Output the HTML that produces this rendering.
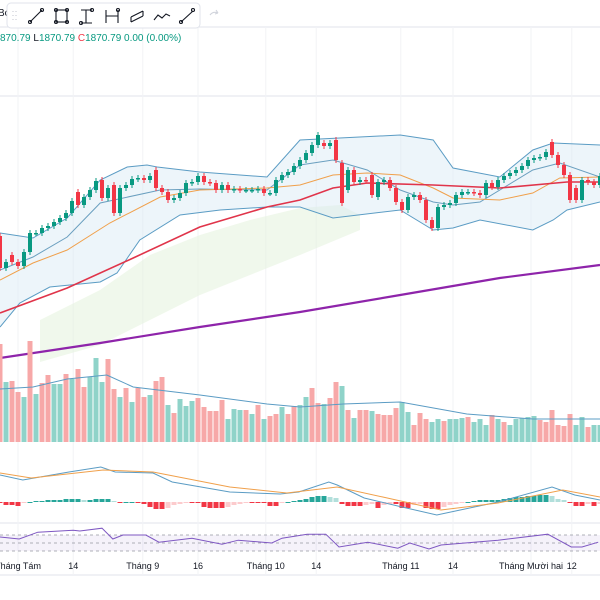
<!DOCTYPE html>
<html><head><meta charset="utf-8"><style>
html,body{margin:0;padding:0;background:#fff;width:600px;height:600px;overflow:hidden}
svg{display:block;font-family:"Liberation Sans",sans-serif}
</style></head><body>
<svg id="chart" width="600" height="600" viewBox="0 0 600 600" xmlns="http://www.w3.org/2000/svg">
<rect x="0" y="0" width="600" height="600" fill="#ffffff"/>
<g id="grid"></g>
<g id="price"></g>
<g id="volume"></g>
<g id="macd"></g>
<g id="rsi"></g>
<g id="xaxis"></g>
<text x="-2" y="16" font-size="10" fill="#131722">Bc</text>
<g font-size="10">
<text x="0" y="41" fill="#089981">870.79 <tspan fill="#131722">L</tspan>1870.79 <tspan fill="#f23645">C</tspan>1870.79 0.00 (0.00%)</text>
</g>
<g>
<rect x="7" y="3" width="193" height="25" rx="4" fill="#fff" stroke="#e0e3eb"/>
<g fill="none" stroke="#131722" stroke-width="1.1">
<g stroke="#c8cbd3"><path d="M13 11v1M16 11v1M13 15v1M16 15v1M13 19v1M16 19v1"/></g>
<g><path d="M30 22L42 10"/><circle cx="30" cy="22" r="1.5"/><circle cx="42" cy="10" r="1.5"/></g>
<g><rect x="56" y="10" width="11" height="12"/><circle cx="56" cy="10" r="1.5"/><circle cx="67" cy="10" r="1.5"/><circle cx="56" cy="22" r="1.5"/><circle cx="67" cy="22" r="1.5"/></g>
<g><path d="M81 10h11M81 23h11M86 10v13"/><circle cx="92" cy="10" r="1.5"/><circle cx="81" cy="23" r="1.5"/></g>
<g><path d="M106 10v13M118 10v13M106 16h12"/><circle cx="118" cy="10" r="1.5"/></g>
<g><path d="M131 17l12-6M131 22l12-6M131 17v5M143 11v5"/></g>
<g><path d="M154 20l4-5 4 3 4-4 4 2"/></g>
<g><path d="M181 22L193 11"/><circle cx="181" cy="22" r="1.5"/><circle cx="193" cy="10" r="1.5"/></g>
</g>
<path d="M210 15q3-4 8-2m0 0l-2-3m2 3l-3 1" fill="none" stroke="#d1d4dc" stroke-width="1.1"/>
</g>
</svg>
<script>
// ---- data (price units; candle i is at x = 6*i) ----
const opens=[1764,1732,1745,1738,1734,1748,1767,1767,1772,1774,1778,1782,1787,1808,1795,1803,1810,1820,1802,1815,1787,1812,1815,1821,1822,1820,1830,1812,1808,1800,1802,1807,1817,1818,1824,1818,1817,1810,1815,1810,1811,1810,1810,1810,1811,1807,1807,1820,1825,1828,1834,1840,1847,1855,1857,1854,1860,1837,1810,1830,1818,1820,1825,1803,1818,1820,1812,1798,1790,1803,1805,1800,1780,1772,1793,1795,1797,1805,1808,1808,1807,1805,1817,1813,1820,1824,1827,1830,1834,1840,1842,1843,1858,1845,1835,1825,1812,1800,1820,1818,1815];
const closes=[1732,1738,1738,1734,1748,1767,1767,1772,1774,1778,1782,1787,1799,1795,1803,1810,1819,1802,1812,1787,1812,1815,1821,1822,1820,1824,1812,1808,1800,1802,1807,1817,1818,1824,1818,1817,1810,1815,1810,1811,1810,1810,1810,1811,1807,1807,1820,1825,1828,1834,1840,1847,1855,1865,1854,1857,1840,1797,1830,1818,1820,1819,1805,1818,1820,1812,1798,1790,1803,1805,1800,1780,1772,1793,1795,1797,1805,1808,1808,1807,1805,1817,1813,1820,1824,1827,1830,1834,1840,1842,1843,1848,1845,1835,1825,1800,1800,1820,1818,1815,1824];
const volumes=[98,60,61,50,45,101,48,59,67,58,58,68,63,73,55,65,84,60,83,53,45,54,40,54,45,47,61,65,37,29,43,36,41,44,35,31,31,42,23,33,32,32,28,37,23,26,28,35,28,36,37,45,54,39,38,44,60,56,32,24,32,32,31,28,27,27,34,40,30,17,29,23,20,23,21,23,23,24,25,20,23,17,27,23,20,17,23,24,25,26,22,20,32,17,16,28,17,25,15,17,17];
const volumeUp=[0,1,0,0,1,0,1,0,0,1,1,0,1,0,0,1,1,1,0,0,1,0,1,0,0,1,0,0,1,0,1,1,1,0,0,0,0,0,1,1,1,0,1,0,1,0,0,1,0,0,1,1,0,0,1,0,0,1,0,1,0,0,1,0,0,0,0,1,1,0,0,0,1,1,0,1,1,1,0,1,1,1,0,1,0,1,1,1,1,1,0,0,0,0,0,0,1,1,0,1,1];
const macdHist=[-1,-3,-3,-4,-1,0,1,1,2,2,2,3,3,3,2,2,3,3,3,1,-1,0,0,-1,-2,-5,-7,-7,-6,-3,-2,-1,-1,-1,-5,-6,-6,-6,-5,-3,-2,-1,-1,-1,-1,-4,-4,-1,0,1,2,3,5,6,6,5,4,-2,-4,-4,-4,-3,-2,-6,-3,-2,-2,-6,-6,-3,-2,-6,-7,-7,-5,-3,-2,-1,0,1,2,2,2,2,3,4,5,5,6,6,7,7,6,3,2,-1,-4,-4,-2,-4,-2];
// indicator knots (candle index -> value)
const bbUpperIdx=[0,5.5,11.2,16.7,21.2,24.5,26.2,33.3,44.5,50,66.7,72.2,75.5,83.3,88.8,92.2,100];
const bbUpperVal=[1767,1762,1782,1820,1833,1835,1833,1828,1823,1860,1865,1860,1832,1823,1850,1857,1855];
const bbLowerIdx=[0,3.3,8.3,16.7,19.5,23.3,30,36.7,44.5,50,55.5,66.7,72.2,75.5,80,88.8,92.2,94.5,100];
const bbLowerVal=[1673,1697,1713,1718,1727,1760,1785,1790,1793,1793,1782,1790,1770,1772,1780,1770,1780,1790,1798];
const bbMidIdx=[0,5.5,11.2,16.7,26.7,33.3,44.5,50,55.5,61.2,66.7,72.2,75.5,80,88.8,93.3,100];
const bbMidVal=[1730,1743,1763,1797,1810,1811,1810,1835,1840,1830,1810,1798,1795,1798,1830,1837,1823];
const ma20Idx=[0,5.5,11.2,18.3,26.7,33.3,44.5,50,55.5,61.2,66.7,72.2,75.5,83.3,88.8,93.3,100];
const ma20Val=[1720,1737,1750,1777,1803,1810,1812,1815,1825,1827,1825,1812,1802,1800,1807,1822,1823];
const ma50Idx=[0,11.2,22.2,33.3,44.5,50,55.5,61.2,72.2,83.3,94.5,100];
const ma50Val=[1687,1712,1742,1773,1793,1800,1812,1817,1815,1812,1818,1818];
const ma200Idx=[0,16.7,33.3,50,66.7,83.3,100];
const ma200Val=[1642,1657,1673,1688,1705,1722,1735];
const volMaIdx=[0,5.5,11.2,17.8,22.2,33.3,44.5,50,57.2,66.7,77.8,88.8,100];
const volMaVal=[53,55,63,67,55,47,38,35,38,40,28,23,23];
const macdIdx=[0,3.8,11.5,16.8,19.2,25.5,28.7,38.3,46.7,49.8,54.8,56.2,60.7,67,72.8,76.7,83,92,95.8,100];
const macdVal=[27,22,30,35,30,29,20,10,8,10,20,17,4,-5,-13,-8,0,15,7,2];
const signalIdx=[0,5.2,17.2,25.5,38.3,47.8,56.2,63.8,73.5,83,93.8,100];
const signalVal=[29,24,32,30,15,9,15,5,-8,-1,12,5];
const rsiIdx=[0,3.2,6.3,12.2,13.3,17,18.8,20.5,24.3,26.5,32,37,39.7,45.3,47,51.2,54.3,56.5,61.3,66.3,68.3,71.5,73.5,83,91.3,95.2,97,99.7];
const rsiVal=[65,60,77,82,80,87,60,70,70,52,62,47,57,50,62,72,72,40,52,37,50,35,45,57,72,40,40,52];
const tickLabels=["Tháng Tám","14","Tháng 9","16","Tháng 10","14","Tháng 11","14","Tháng Mười hai","12"];
const tickIdx=[3,12.2,23.8,33,44.3,52.7,66.8,75.5,88.5,95.3];

// ---- scales ----
const NS="http://www.w3.org/2000/svg";
const xS=i=>i*6;
const yP=p=>2000-p;
const yV=v=>442-v;
const yM=m=>502-m;
const yR=r=>563-r*0.4;
function mk(tag,attrs,parent){const e=document.createElementNS(NS,tag);for(const k in attrs)e.setAttribute(k,attrs[k]);parent.appendChild(e);return e;}
function path(idx,val,ys){return idx.map((i,k)=>(k?'L':'M')+xS(i).toFixed(1)+' '+ys(val[k]).toFixed(1)).join(' ');}

const grid=document.getElementById('grid');
[27,96,523,575].forEach(y=>{const l=mk('line',{x1:0,x2:600,y1:y,y2:y,stroke:'#e0e3eb','stroke-width':1},grid);

});
tickIdx.forEach(i=>{const l=mk('line',{x1:xS(i),x2:xS(i),y1:27,y2:575,stroke:'#f2f3f6','stroke-width':1},grid);

});

// ---- price pane ----
const P=document.getElementById('price');
const cloud=mk('path',{d:'M40 320L100 290L150 255L200 235L250 220L300 208L340 205L360 215L360 230L300 255L250 275L200 295L150 320L100 345L40 362Z',fill:'#e6f4df',opacity:0.6},P);


const upD=path(bbUpperIdx,bbUpperVal,yP);
const loRev=bbLowerIdx.map((i,k)=>[i,bbLowerVal[k]]).reverse();
const fillD=upD+' '+loRev.map(p=>'L'+xS(p[0])+' '+yP(p[1])).join(' ')+'Z';
const bbf=mk('path',{d:fillD,fill:'#d6e9f5',opacity:0.45},P);


[[bbUpperIdx,bbUpperVal,'#5b9cc4','bollinger-upper'],[bbLowerIdx,bbLowerVal,'#5b9cc4','bollinger-lower'],[bbMidIdx,bbMidVal,'#6a9fbf','bollinger-basis'],[ma20Idx,ma20Val,'#f0a04b','ma-orange'],[ma50Idx,ma50Val,'#e0344a','ma-red'],[ma200Idx,ma200Val,'#8e24aa','ma-purple']].forEach(s=>{
 const l=mk('path',{d:path(s[0],s[1],yP),fill:'none',stroke:s[2],'stroke-width':s[3]==='ma-purple'?2.2:(s[3]==='ma-red'?1.6:1)},P);
 
 
});
opens.forEach((o,i)=>{
 const c=closes[i],up=c>=o,col=up?'#089981':'#f23645';
 const g=mk('g',{},P);
 
 
 const hi=Math.max(o,c)+3,lo=Math.min(o,c)-3,x=xS(i);
 mk('line',{x1:x,x2:x,y1:yP(hi),y2:yP(lo),stroke:col,'stroke-width':1},g);
 const t=yP(Math.max(o,c)),h=Math.max(1.5,Math.abs(o-c));
 mk('rect',{x:x-2,y:t,width:4,height:h,fill:col},g);
});

// ---- volume ----
const V=document.getElementById('volume');
volumes.forEach((v,i)=>{
 const up=volumeUp[i]===1;
 const r=mk('rect',{x:xS(i)-2.5,y:yV(v),width:5,height:v,fill:up?'#8fd3c9':'#f7a8a8'},V);
 
 
});
const vm=mk('path',{d:path(volMaIdx,volMaVal,yV),fill:'none',stroke:'#5b9cc4','stroke-width':1},V);



// ---- MACD ----
const M=document.getElementById('macd');
macdHist.forEach((h,i)=>{
 const prev=i?macdHist[i-1]:0;
 let col;
 if(h>=0) col=h>=prev?'#26a69a':'#b2dfdb'; else col=h<=prev?'#f23645':'#fccbcd';
 const y0=yM(0),y1=yM(h);
 const r=mk('rect',{x:xS(i)-2.5,y:Math.min(y0,y1),width:5,height:Math.max(1,Math.abs(y1-y0)),fill:col},M);
 
 
});
const ml=mk('path',{d:path(macdIdx,macdVal,yM),fill:'none',stroke:'#5b9cc4','stroke-width':1},M);


const sl=mk('path',{d:path(signalIdx,signalVal,yM),fill:'none',stroke:'#f0a04b','stroke-width':1},M);



// ---- RSI ----
const R=document.getElementById('rsi');
const rb=mk('rect',{x:0,y:yR(70),width:600,height:yR(30)-yR(70),fill:'#7e57c2',opacity:0.08},R);


[70,50,30].forEach(v=>{const l=mk('line',{x1:0,x2:600,y1:yR(v),y2:yR(v),stroke:'#9598a1','stroke-width':0.8,'stroke-dasharray':'3 3'},R);

});
const rl=mk('path',{d:path(rsiIdx,rsiVal,yR),fill:'none',stroke:'#7e57c2','stroke-width':1},R);



// ---- time axis ----
const X=document.getElementById('xaxis');
tickLabels.forEach((t,k)=>{
 const tx=mk('text',{x:xS(tickIdx[k]),y:569,'font-size':9,fill:'#131722','text-anchor':'middle'},X);
 tx.textContent=t;
 
 
});
</script>
</body></html>
